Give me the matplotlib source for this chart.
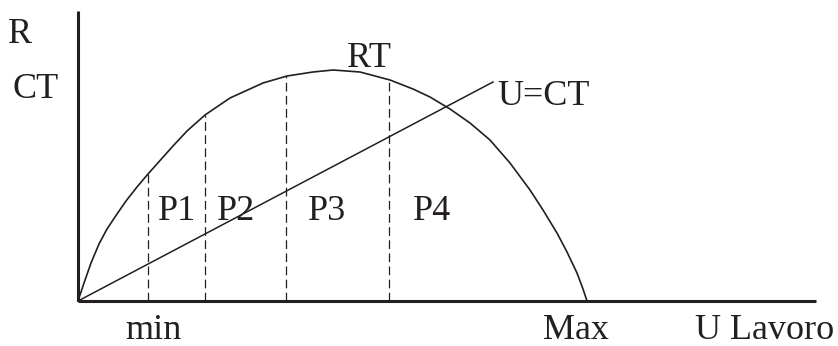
import matplotlib
matplotlib.use("Agg")
import matplotlib.pyplot as plt

# diagram units: x right from the origin, y up from the x axis
rt_x = [0, 6, 13, 21, 29, 39, 48, 59, 70, 95, 109, 127, 152, 185, 209, 235, 255,
        282, 312, 335, 352, 372, 392, 412, 432, 452, 465, 479, 489, 499, 505, 509]
rt_y = [0, 18, 38, 57, 72, 87, 100, 114, 127, 155, 170, 186, 203, 218, 225, 229, 231,
        229, 221, 212, 204, 192, 178, 161, 138, 111, 91, 68, 49, 28, 12, 0]

ct_x = [0, 415]
ct_y = [0, 219]

dash_x = [70, 127, 208, 311]
dash_top = [127, 186, 225, 221]

region_labels = ["P1", "P2", "P3", "P4"]
region_x = [80, 139, 230, 335]

axis_x_end = 738
axis_y_end = 290

ink = "#231f20"
plt.rcParams["font.family"] = ["Liberation Serif", "DejaVu Serif"]

fig = plt.figure(figsize=(8.38, 3.46), dpi=100)
ax = fig.add_axes([0, 0, 1, 1])
ax.set_xlim(-78, 760)
ax.set_ylim(-45, 301)
ax.axis("off")

# axes
ax.plot([0, axis_x_end], [0, 0], color=ink, lw=2.2, solid_capstyle="butt")
ax.plot([0, 0], [0, axis_y_end], color=ink, lw=2.2, solid_capstyle="butt")

# curves
ax.plot(rt_x, rt_y, color=ink, lw=1.2, solid_joinstyle="round")
ax.plot(ct_x, ct_y, color=ink, lw=1.1)

for x, top in zip(dash_x, dash_top):
    ax.plot([x, x], [0, top], color=ink, lw=0.9, dashes=(7, 3.5))

fs = 26
ax.text(-70, 258, "R", fontsize=fs, color=ink, va="baseline")
ax.text(-65, 203, "CT", fontsize=fs, color=ink, va="baseline")
ax.text(269, 234, "RT", fontsize=fs, color=ink, va="baseline")
ax.text(419, 196, "U=CT", fontsize=fs, color=ink, va="baseline")
for lab, x in zip(region_labels, region_x):
    ax.text(x, 81, lab, fontsize=fs, color=ink, va="baseline")
ax.text(47, -38, "min", fontsize=fs, color=ink, va="baseline")
ax.text(465, -38, "Max", fontsize=fs, color=ink, va="baseline")
ax.text(617, -38, "U Lavoro", fontsize=fs, color=ink, va="baseline")

fig.savefig("out.png", dpi=100)
